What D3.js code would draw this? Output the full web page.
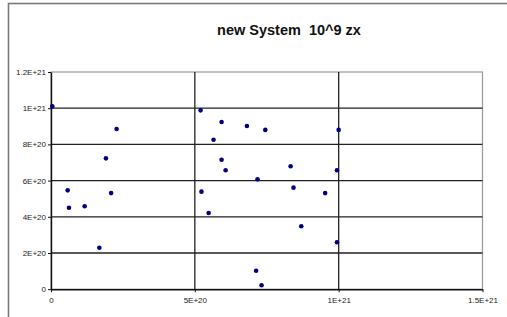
<!DOCTYPE html>
<html>
<head>
<meta charset="utf-8">
<script src="https://cdn.jsdelivr.net/npm/d3@7"></script>
<style>
  body { margin: 0; background: #fff; }
  svg { display: block; font-family: Arial, "Liberation Sans", sans-serif; }
</style>
</head>
<body>
<div class="chart"></div>
<script>
// values (x, y)
const xValues = [
  4.5e18, 5.8e19, 6.25e19, 1.17e20, 1.68e20, 1.91e20, 2.09e20, 2.28e20,
  5.2e20, 5.93e20, 6.81e20, 7.45e20, 1.0e21, 5.65e20, 5.93e20, 6.07e20,
  8.33e20, 9.94e20, 7.18e20, 5.23e20, 8.43e20, 9.53e20, 5.48e20, 8.7e20,
  9.94e20, 7.13e20, 7.32e20
];
const yValues = [
  1.01e21, 5.46e20, 4.5e20, 4.58e20, 2.29e20, 7.23e20, 5.31e20, 8.85e20,
  9.88e20, 9.24e20, 9.02e20, 8.8e20, 8.8e20, 8.26e20, 7.15e20, 6.57e20,
  6.79e20, 6.57e20, 6.07e20, 5.39e20, 5.61e20, 5.31e20, 4.21e20, 3.48e20,
  2.59e20, 1.02e20, 0.22e20
];
const xTicks = [0, 5e20, 1e21, 1.5e21];
const xTickLabels = ["0", "5E+20", "1E+21", "1.5E+21"];
const yTicks = [0, 2e20, 4e20, 6e20, 8e20, 1e21, 1.2e21];
const yTickLabels = ["0", "2E+20", "4E+20", "6E+20", "8E+20", "1E+21", "1.2E+21"];
const title = "new System  10^9 zx";

const points = xValues.map((x, i) => ({ x: x, y: yValues[i] }));

const W = 507, H = 317;
const plot = { left: 51, right: 482.5, top: 72, bottom: 289.2 };

const svg = d3.select(".chart").append("svg")
  .attr("width", W)
  .attr("height", H);

// outer chart frame
svg.append("rect")
  .attr("x", 8.5).attr("y", 3.5)
  .attr("width", 520).attr("height", 330)
  .attr("fill", "#fff")
  .attr("stroke", "#7a7a7a")
  .attr("stroke-width", 1.6);

svg.append("text")
  .attr("x", 289).attr("y", 35)
  .attr("text-anchor", "middle")
  .style("font-size", "14.5px")
  .style("font-weight", "bold")
  .style("white-space", "pre")
  .attr("fill", "#111")
  .text(title);

const xScale = d3.scaleLinear().domain([0, 1.5e21]).range([plot.left, plot.right]);
const yScale = d3.scaleLinear().domain([0, 1.2e21]).range([plot.bottom, plot.top]);

// plot area border (top/right lighter)
svg.append("rect")
  .attr("x", plot.left).attr("y", plot.top)
  .attr("width", plot.right - plot.left).attr("height", plot.bottom - plot.top)
  .attr("fill", "none")
  .attr("stroke", "#999")
  .attr("stroke-width", 1.2);

// gridlines
svg.append("g")
  .selectAll("line")
  .data(yTicks.filter((d) => d > 0 && d < 1.2e21))
  .enter().append("line")
  .attr("x1", plot.left).attr("x2", plot.right)
  .attr("y1", (d) => yScale(d)).attr("y2", (d) => yScale(d))
  .attr("stroke", "#222").attr("stroke-width", 1.3);

svg.append("g")
  .selectAll("line")
  .data(xTicks.filter((d) => d > 0 && d < 1.5e21))
  .enter().append("line")
  .attr("x1", (d) => xScale(d)).attr("x2", (d) => xScale(d))
  .attr("y1", plot.top).attr("y2", plot.bottom)
  .attr("stroke", "#222").attr("stroke-width", 1.3);

// axes
const xAxis = svg.append("g")
  .attr("transform", "translate(0," + plot.bottom + ")")
  .call(d3.axisBottom(xScale).tickValues(xTicks)
    .tickFormat((d, i) => xTickLabels[i]).tickSize(3).tickSizeOuter(0));

const yAxis = svg.append("g")
  .attr("transform", "translate(" + plot.left + ",0)")
  .call(d3.axisLeft(yScale).tickValues(yTicks)
    .tickFormat((d, i) => yTickLabels[i]).tickSize(3).tickSizeOuter(0));

[xAxis, yAxis].forEach((g) => {
  g.select(".domain").attr("stroke", "#111").attr("stroke-width", 1.4);
  g.selectAll(".tick line").attr("stroke", "#111");
  g.selectAll(".tick text")
    .attr("fill", "#222")
    .style("font-size", "8px")
    .style("font-family", "Arial, 'Liberation Sans', sans-serif");
});
xAxis.selectAll(".tick text").attr("dy", "0.8em").attr("y", 7);
yAxis.selectAll(".tick text").attr("x", -5);

// points
svg.append("g")
  .selectAll("circle")
  .data(points)
  .enter().append("circle")
  .attr("cx", (d) => xScale(d.x))
  .attr("cy", (d) => yScale(d.y))
  .attr("r", 2.3)
  .attr("fill", "#000080");
</script>
</body>
</html>
